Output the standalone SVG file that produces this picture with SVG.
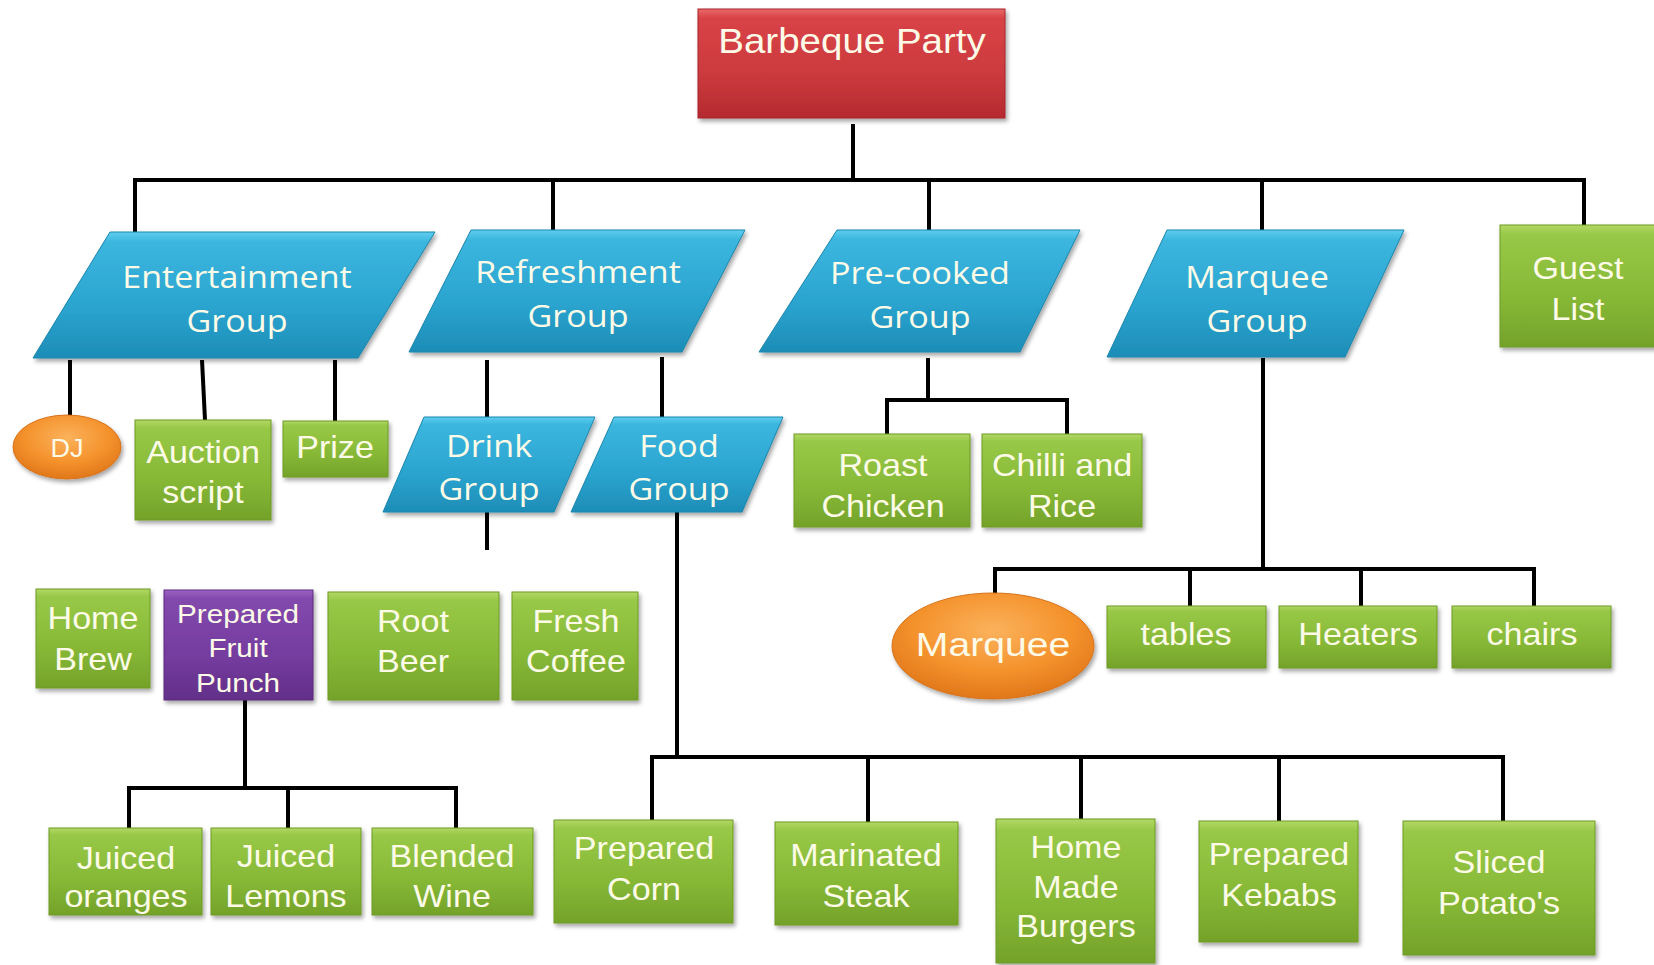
<svg xmlns="http://www.w3.org/2000/svg" width="1654" height="965" viewBox="0 0 1654 965">
<defs>
<linearGradient id="gGreen" x1="0" y1="0" x2="0" y2="1">
<stop offset="0" stop-color="#b2d866"/><stop offset="0.08" stop-color="#98c847"/><stop offset="0.6" stop-color="#86b836"/><stop offset="1" stop-color="#74a22a"/>
</linearGradient>
<linearGradient id="gBlue" x1="0" y1="0" x2="0" y2="1">
<stop offset="0" stop-color="#5fcdee"/><stop offset="0.08" stop-color="#3bb6df"/><stop offset="0.6" stop-color="#2aa4cf"/><stop offset="1" stop-color="#1d8db7"/>
</linearGradient>
<linearGradient id="gRed" x1="0" y1="0" x2="0" y2="1">
<stop offset="0" stop-color="#ea6a6a"/><stop offset="0.08" stop-color="#d84347"/><stop offset="0.6" stop-color="#cb3a3e"/><stop offset="1" stop-color="#b52a2f"/>
</linearGradient>
<linearGradient id="gPurple" x1="0" y1="0" x2="0" y2="1">
<stop offset="0" stop-color="#9c64c4"/><stop offset="0.08" stop-color="#8349ad"/><stop offset="0.6" stop-color="#753c9f"/><stop offset="1" stop-color="#622f88"/>
</linearGradient>
<radialGradient id="gOrange" cx="0.5" cy="0.35" r="0.65">
<stop offset="0" stop-color="#fbb25c"/><stop offset="0.6" stop-color="#f4922c"/><stop offset="1" stop-color="#e0771a"/>
</radialGradient>
<filter id="sh" x="-10%" y="-10%" width="125%" height="130%">
<feDropShadow dx="2" dy="3" stdDeviation="2" flood-color="#000" flood-opacity="0.35"/>
</filter>
</defs>
<style>
.green{fill:url(#gGreen);stroke:#6e9a27;stroke-width:1;filter:url(#sh)}
.blue{fill:url(#gBlue);stroke:#1b86ad;stroke-width:1;filter:url(#sh)}
.red{fill:url(#gRed);stroke:#a82428;stroke-width:1;filter:url(#sh)}
.purple{fill:url(#gPurple);stroke:#5a2a7d;stroke-width:1;filter:url(#sh)}
.orange{fill:url(#gOrange);stroke:#d8731a;stroke-width:1;filter:url(#sh)}
.t{font-family:"Liberation Sans",Arial,sans-serif;fill:#fdfbe8;text-anchor:middle}
.tb{font-family:"Open Sans","Noto Sans",sans-serif;fill:#fdfbe8;text-anchor:middle;font-size:31px}
.tg{font-size:31px}
.tp{font-size:26px}
.conn path{fill:none;stroke:#000;stroke-width:4}
</style>
<rect width="1654" height="965" fill="#ffffff"/>

<g class="conn" id="connectors">
<path d="M853,124 V180"/>
<path d="M135,232 V180 H1584 V225"/>
<path d="M553,180 V230"/>
<path d="M929,180 V230"/>
<path d="M1262,180 V230"/>
<path d="M70,360 V416"/>
<path d="M202,360 L205,420"/>
<path d="M335,360 V421"/>
<path d="M487,360 V417"/>
<path d="M662,357 V417"/>
<path d="M487,512 V550"/>
<path d="M677,512 V757"/>
<path d="M652,820 V757 H1503 V821"/>
<path d="M868,757 V822"/>
<path d="M1081,757 V819"/>
<path d="M1279,757 V821"/>
<path d="M928,358 V400"/>
<path d="M887,434 V400 H1067 V434"/>
<path d="M1263,358 V569"/>
<path d="M995,595 V569 H1534 V606"/>
<path d="M1190,569 V606"/>
<path d="M1361,569 V606"/>
<path d="M245,700 V788"/>
<path d="M129,828 V788 H456 V828"/>
<path d="M288,788 V828"/>
</g>

<g id="barbeque-party">
<rect class="red" x="698" y="9" width="307" height="109"/>
<text class="t" font-size="35" transform="translate(852 53) scale(1.1 1)">Barbeque Party</text>
</g>

<g id="entertainment-group">
<polygon class="blue" points="110,232 435,232 358,358 33,358"/>
<text class="tb" transform="translate(237 288) scale(1.1 1)"><tspan x="0">Entertainment</tspan><tspan x="0" dy="44">Group</tspan></text>
</g>
<g id="refreshment-group">
<polygon class="blue" points="471,230 745,230 682,352 409,352"/>
<text class="tb" transform="translate(578 283) scale(1.1 1)"><tspan x="0">Refreshment</tspan><tspan x="0" dy="44">Group</tspan></text>
</g>
<g id="precooked-group">
<polygon class="blue" points="837,230 1080,230 1020,352 759,352"/>
<text class="tb" transform="translate(920 284) scale(1.1 1)"><tspan x="0">Pre-cooked</tspan><tspan x="0" dy="44">Group</tspan></text>
</g>
<g id="marquee-group">
<polygon class="blue" points="1167,230 1404,230 1345,357 1107,357"/>
<text class="tb" transform="translate(1257 288) scale(1.1 1)"><tspan x="0">Marquee</tspan><tspan x="0" dy="44">Group</tspan></text>
</g>
<g id="guest-list">
<rect class="green" x="1500" y="225" width="170" height="122"/>
<text class="t tg" transform="translate(1578 279) scale(1.1 1)"><tspan x="0">Guest</tspan><tspan x="0" dy="41">List</tspan></text>
</g>

<g id="dj">
<ellipse class="orange" cx="67" cy="447" rx="54" ry="32"/>
<text class="t" font-size="25" transform="translate(67 457) scale(1.08 1)">DJ</text>
</g>
<g id="auction-script">
<rect class="green" x="135" y="420" width="136" height="100"/>
<text class="t tg" transform="translate(203 463) scale(1.1 1)"><tspan x="0">Auction</tspan><tspan x="0" dy="40">script</tspan></text>
</g>
<g id="prize">
<rect class="green" x="283" y="421" width="105" height="56"/>
<text class="t tg" transform="translate(335 458) scale(1.1 1)">Prize</text>
</g>

<g id="drink-group">
<polygon class="blue" points="424,417 595,417 554,512 383,512"/>
<text class="tb" transform="translate(489 457) scale(1.1 1)"><tspan x="0">Drink</tspan><tspan x="0" dy="43">Group</tspan></text>
</g>
<g id="food-group">
<polygon class="blue" points="614,417 783,417 742,512 571,512"/>
<text class="tb" transform="translate(679 457) scale(1.1 1)"><tspan x="0">Food</tspan><tspan x="0" dy="43">Group</tspan></text>
</g>

<g id="roast-chicken">
<rect class="green" x="794" y="434" width="176" height="93"/>
<text class="t tg" transform="translate(883 476) scale(1.1 1)"><tspan x="0">Roast</tspan><tspan x="0" dy="41">Chicken</tspan></text>
</g>
<g id="chilli-and-rice">
<rect class="green" x="982" y="434" width="160" height="93"/>
<text class="t tg" transform="translate(1062 476) scale(1.1 1)"><tspan x="0">Chilli and</tspan><tspan x="0" dy="41">Rice</tspan></text>
</g>

<g id="home-brew">
<rect class="green" x="36" y="589" width="114" height="99"/>
<text class="t tg" transform="translate(93 629) scale(1.1 1)"><tspan x="0">Home</tspan><tspan x="0" dy="41">Brew</tspan></text>
</g>
<g id="prepared-fruit-punch">
<rect class="purple" x="164" y="590" width="149" height="110"/>
<text class="t tp" transform="translate(238 623) scale(1.14 1)"><tspan x="0">Prepared</tspan><tspan x="0" dy="34">Fruit</tspan><tspan x="0" dy="35">Punch</tspan></text>
</g>
<g id="root-beer">
<rect class="green" x="328" y="592" width="171" height="108"/>
<text class="t tg" transform="translate(413 632) scale(1.1 1)"><tspan x="0">Root</tspan><tspan x="0" dy="40">Beer</tspan></text>
</g>
<g id="fresh-coffee">
<rect class="green" x="512" y="592" width="126" height="108"/>
<text class="t tg" transform="translate(576 632) scale(1.1 1)"><tspan x="0">Fresh</tspan><tspan x="0" dy="40">Coffee</tspan></text>
</g>

<g id="juiced-oranges">
<rect class="green" x="49" y="828" width="153" height="87"/>
<text class="t tg" transform="translate(126 869) scale(1.1 1)"><tspan x="0">Juiced</tspan><tspan x="0" dy="38">oranges</tspan></text>
</g>
<g id="juiced-lemons">
<rect class="green" x="211" y="828" width="150" height="87"/>
<text class="t tg" transform="translate(286 867) scale(1.1 1)"><tspan x="0">Juiced</tspan><tspan x="0" dy="40">Lemons</tspan></text>
</g>
<g id="blended-wine">
<rect class="green" x="372" y="828" width="161" height="87"/>
<text class="t tg" transform="translate(452 867) scale(1.1 1)"><tspan x="0">Blended</tspan><tspan x="0" dy="40">Wine</tspan></text>
</g>

<g id="marquee">
<ellipse class="orange" cx="993" cy="646" rx="101" ry="53"/>
<text class="t" font-size="34" transform="translate(993 656) scale(1.15 1)">Marquee</text>
</g>
<g id="tables">
<rect class="green" x="1107" y="606" width="159" height="62"/>
<text class="t tg" transform="translate(1186 645) scale(1.1 1)">tables</text>
</g>
<g id="heaters">
<rect class="green" x="1279" y="606" width="158" height="62"/>
<text class="t tg" transform="translate(1358 645) scale(1.1 1)">Heaters</text>
</g>
<g id="chairs">
<rect class="green" x="1452" y="606" width="159" height="62"/>
<text class="t tg" transform="translate(1532 645) scale(1.1 1)">chairs</text>
</g>

<g id="prepared-corn">
<rect class="green" x="554" y="820" width="179" height="103"/>
<text class="t tg" transform="translate(644 859) scale(1.1 1)"><tspan x="0">Prepared</tspan><tspan x="0" dy="41">Corn</tspan></text>
</g>
<g id="marinated-steak">
<rect class="green" x="775" y="822" width="183" height="103"/>
<text class="t tg" transform="translate(866 866) scale(1.1 1)"><tspan x="0">Marinated</tspan><tspan x="0" dy="41">Steak</tspan></text>
</g>
<g id="home-made-burgers">
<rect class="green" x="996" y="819" width="159" height="144"/>
<text class="t tg" transform="translate(1076 858) scale(1.1 1)"><tspan x="0">Home</tspan><tspan x="0" dy="40">Made</tspan><tspan x="0" dy="39">Burgers</tspan></text>
</g>
<g id="prepared-kebabs">
<rect class="green" x="1199" y="821" width="159" height="121"/>
<text class="t tg" transform="translate(1279 865) scale(1.1 1)"><tspan x="0">Prepared</tspan><tspan x="0" dy="41">Kebabs</tspan></text>
</g>
<g id="sliced-potatos">
<rect class="green" x="1403" y="821" width="192" height="134"/>
<text class="t tg" transform="translate(1499 873) scale(1.1 1)"><tspan x="0">Sliced</tspan><tspan x="0" dy="41">Potato's</tspan></text>
</g>
</svg>
